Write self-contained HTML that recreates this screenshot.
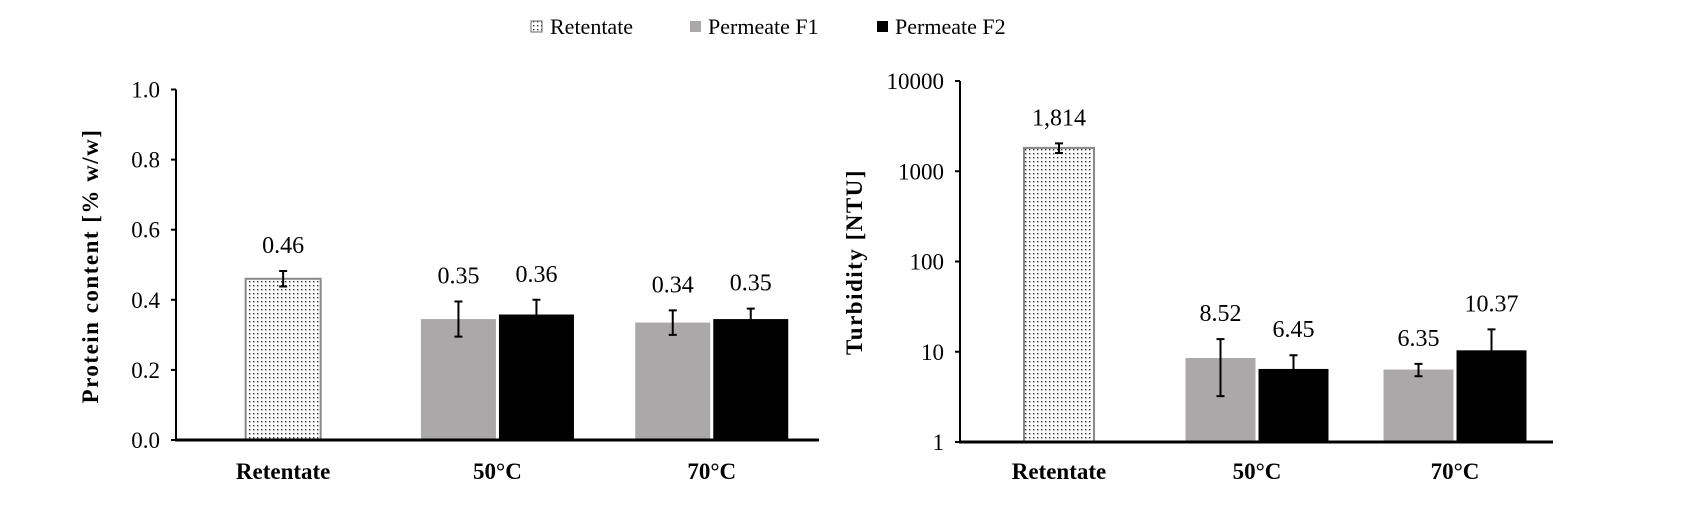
<!DOCTYPE html>
<html><head><meta charset="utf-8"><style>
body{margin:0;background:#fff;width:1683px;height:506px;overflow:hidden}
svg{display:block;font-family:"Liberation Serif",serif}
</style></head><body>
<svg id="c" width="1683" height="506">
<defs><pattern id="dots" width="4" height="4" patternUnits="userSpaceOnUse"><rect width="4" height="4" fill="#fff"/><rect x="1" y="1" width="1.4" height="1.4" fill="#333"/></pattern></defs>
<g font-size="22">
<g><rect x="531" y="21" width="11" height="11" fill="url(#dots)" stroke="#666"/><text x="550" y="34">Retentate</text></g>
<g><rect x="690" y="21" width="11" height="11" fill="#aaa8a8"/><text x="708" y="34">Permeate F1</text></g>
<g><rect x="877" y="21" width="11" height="11" fill="#000"/><text x="895" y="34">Permeate F2</text></g>
</g>
</svg>
<script>
const categories=["Retentate","50°C","70°C"];
const protVals=[[0.46,null],[0.345,0.358],[0.335,0.345]];
const protErr=[[0.022,null],[0.05,0.042],[0.035,0.03]];
const protLabels=[["0.46",null],["0.35","0.36"],["0.34","0.35"]];
const protTicks=["0.0","0.2","0.4","0.6","0.8","1.0"];
const turbVals=[[1814,null],[8.52,6.45],[6.35,10.37]];
const turbErr=[[220,null],[5.3,2.7],[1.0,7.3]];
const turbLabels=[["1,814",null],["8.52","6.45"],["6.35","10.37"]];
const turbTicks=["1","10","100","1000","10000"];
const svg=document.getElementById('c');const NS='http://www.w3.org/2000/svg';
function el(t,a,p){const e=document.createElementNS(NS,t);for(const k in a)e.setAttribute(k,a[k]);(p||svg).appendChild(e);return e;}
function draw(o){
 const g=el('g',{});
 
 
 const bw=o.bw;
 categories.forEach((c,i)=>{
  const cx=o.x0+o.step*(i+0.5);
  const vals=o.vals[i];
  vals.forEach((v,j)=>{
   if(v===null)return;
   let bx;
   if(vals[1]===null)bx=cx-bw/2;else bx=j===0?cx-bw-1.5:cx+1.5;
   const y=o.sy(v);
   const r=el('rect',{x:bx,y:y,width:bw,height:o.y0-y,fill:i===0?'url(#dots)':(j===0?'#aaa8a8':'#000'),stroke:i===0?'#888':'none','stroke-width':2},g);
   
   
   const e=o.err[i][j];const mx=bx+bw/2;const t=o.sy(v+e),b=o.sy(Math.max(v-e,o.min));
   const eb=el('path',{d:`M${mx},${t}V${b}M${mx-4},${t}H${mx+4}M${mx-4},${b}H${mx+4}`,stroke:'#000','stroke-width':2,fill:'none'},g);
   
   
   const tl=el('text',{x:mx,y:t-18,'text-anchor':'middle','font-size':24},g);tl.textContent=o.labels[i][j];
   
   
  });
  const cl=el('text',{x:cx,y:479,'text-anchor':'middle','font-size':23,'font-weight':'bold'},g);cl.textContent=c;
  
  
 });
 const ya=el('line',{x1:o.x0,x2:o.x0,y1:o.sy(o.max),y2:o.y0,stroke:'#000','stroke-width':2},g);
 
 
 const xa=el('line',{x1:o.x0-1,x2:o.x1,y1:o.y0,y2:o.y0,stroke:'#000','stroke-width':3},g);
 
 
 o.ticks.forEach(t=>{const y=o.sy(parseFloat(t));
  el('line',{x1:o.x0-5,x2:o.x0,y1:y,y2:y,stroke:'#000','stroke-width':2},g);
  const tt=el('text',{x:o.x0-16,y:y+8,'text-anchor':'end','font-size':23},g);tt.textContent=t;
  
  
 });
 const yt=el('text',{x:0,y:0,transform:`translate(${o.tx},${o.ty}) rotate(-90)`,'text-anchor':'middle','font-size':23,'font-weight':'bold','letter-spacing':1.5},g);
 yt.textContent=o.title;
 
 
}
draw({name:'protein-chart',x0:176,x1:819,step:214.3,y0:440,bw:75,min:0,max:1,
 sy:v=>440-v*350.5,vals:protVals,err:protErr,labels:protLabels,ticks:protTicks,
 title:'Protein content [% w/w]',tx:98,ty:266});
draw({name:'turbidity-chart',x0:960,x1:1553,step:198,y0:442,bw:70,min:1,max:10000,
 sy:v=>442-Math.log10(v)*90.25,vals:turbVals,err:turbErr,labels:turbLabels,ticks:turbTicks,
 title:'Turbidity [NTU]',tx:862,ty:262});
</script>
</body></html>
